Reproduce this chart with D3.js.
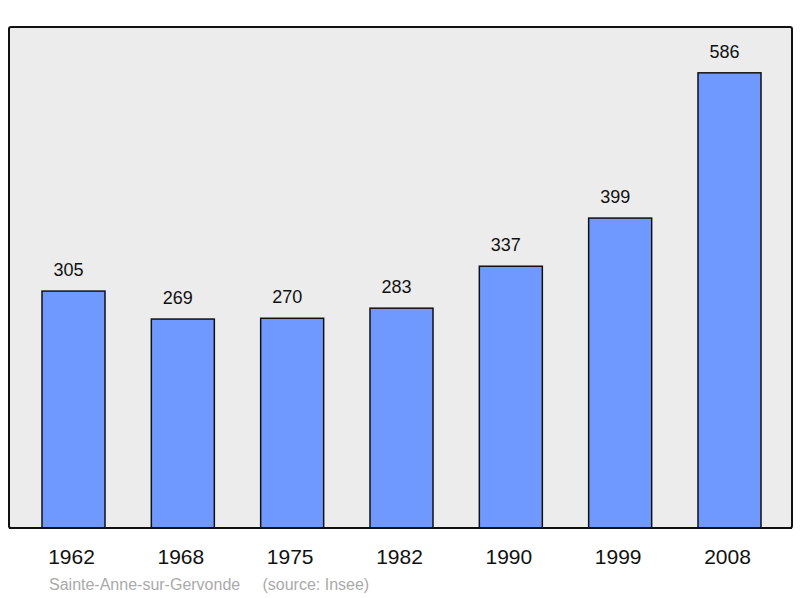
<!DOCTYPE html>
<html><head><meta charset="utf-8">
<script src="https://cdn.jsdelivr.net/npm/d3@7"></script>
<style>body{margin:0;background:#fff}text{font-family:"Liberation Sans",Arial,sans-serif}</style>
</head><body><div class="chart"></div>
<script>
var years = ["1962","1968","1975","1982","1990","1999","2008"]
var population = [305, 269, 270, 283, 337, 399, 586]
var commune = "Sainte-Anne-sur-Gervonde"
var source = "(source: Insee)"

var width = 800, height = 598
var svg = d3.select(".chart").append("svg").attr("width", width).attr("height", height)

// frame of the plot
svg.append("rect").attr("x", 9).attr("y", 27).attr("width", 783).attr("height", 501)
   .attr("rx", 2).attr("fill", "#ececec").attr("stroke", "#111").attr("stroke-width", 2)

var x = d3.scalePoint().domain(years).range([73.5, 729.5])
var y = d3.scaleLinear().domain([0, 645]).range([528, 27])
var barW = 63

svg.selectAll("rect.bar").data(population).enter().append("rect")
   .attr("class", "bar")
   .attr("x", function(d, i) { return x(years[i]) - barW / 2 })
   .attr("y", function(d) { return y(d) })
   .attr("width", barW)
   .attr("height", function(d) { return y(0) - y(d) })
   .attr("fill", "#7099ff").attr("stroke", "#111").attr("stroke-width", 1.5)

svg.selectAll("text.val").data(population).enter().append("text")
   .attr("class", "val")
   .attr("x", function(d, i) { return x(years[i]) - 5 })
   .attr("y", function(d) { return y(d) - 15 })
   .attr("text-anchor", "middle").attr("font-size", 18).attr("fill", "#111")
   .text(function(d) { return d })

svg.selectAll("text.year").data(years).enter().append("text")
   .attr("class", "year")
   .attr("x", function(d) { return x(d) - 2 })
   .attr("y", 564)
   .attr("text-anchor", "middle").attr("font-size", 21).attr("fill", "#111")
   .text(function(d) { return d })

svg.append("text").attr("x", 49).attr("y", 590).attr("font-size", 16).attr("fill", "#aaa")
   .attr("xml:space", "preserve").style("white-space", "pre")
   .text(commune + "     " + source)

// bottom axis line
svg.append("line").attr("x1", 9).attr("x2", 792).attr("y1", 528).attr("y2", 528)
   .attr("stroke", "#111").attr("stroke-width", 2)
</script></body></html>
